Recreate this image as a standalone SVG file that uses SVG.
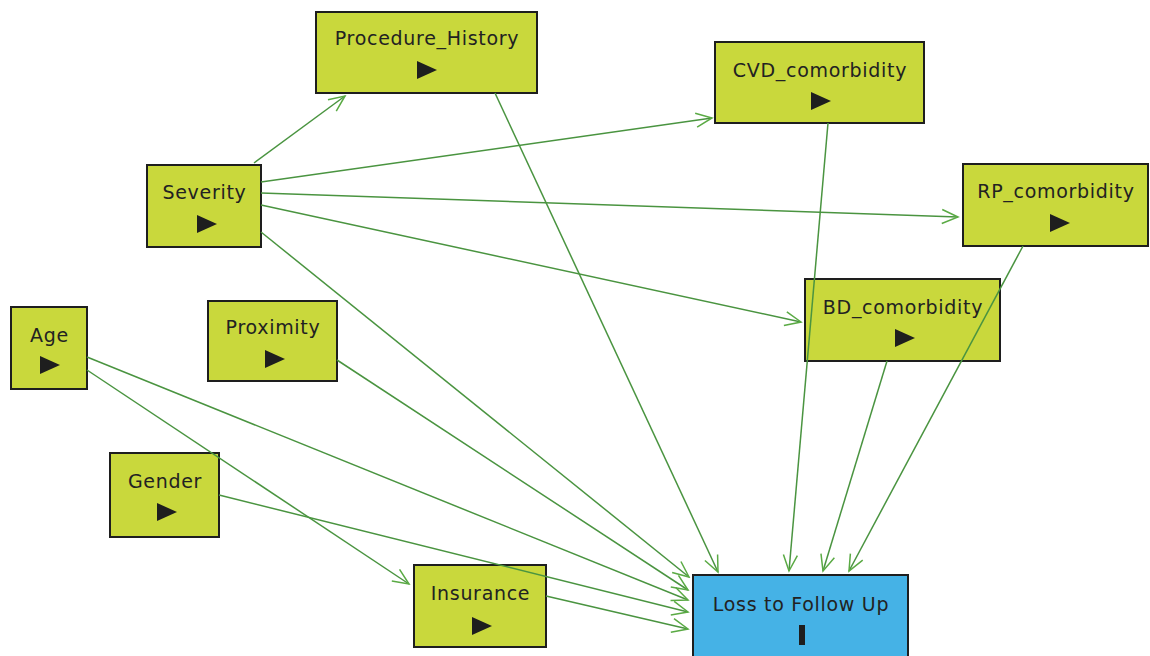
<svg xmlns="http://www.w3.org/2000/svg" width="1150" height="656" viewBox="0 0 1150 656">
<style>
.n{fill:#c9d83c;stroke:#1e1e1e;stroke-width:2}
.t{fill:#1e1e1e;stroke:none}
.lbl{font-family:"DejaVu Sans","Noto Sans",sans-serif;font-size:19px;letter-spacing:0.7px;fill:#222;text-anchor:middle}
.e{stroke:#4a9440;stroke-width:1.5;fill:none;marker-end:url(#ah)}
</style>
<defs>
<marker id="ah" viewBox="0 0 20 20" refX="18" refY="10" markerWidth="20" markerHeight="20" markerUnits="userSpaceOnUse" orient="auto">
<path d="M2,3 L18,10 L2,17" fill="none" stroke="#5aaa44" stroke-width="1.5"/>
</marker>
</defs>
<rect width="1150" height="656" fill="#ffffff"/>
<g id="procedure_history">
<rect class="n" x="316" y="12" width="221" height="81"/>
<text class="lbl" x="427" y="45">Procedure_History</text>
<polygon class="t" points="417,61 437,70 417,79"/>
</g>
<g id="severity">
<rect class="n" x="147" y="165" width="114" height="82"/>
<text class="lbl" x="204.5" y="199">Severity</text>
<polygon class="t" points="197,215 217,224 197,233"/>
</g>
<g id="cvd_comorbidity">
<rect class="n" x="715" y="42" width="209" height="81"/>
<text class="lbl" x="820" y="77">CVD_comorbidity</text>
<polygon class="t" points="811,92 831,101 811,110"/>
</g>
<g id="rp_comorbidity">
<rect class="n" x="963" y="164" width="185" height="82"/>
<text class="lbl" x="1056" y="198">RP_comorbidity</text>
<polygon class="t" points="1050,214 1070,223 1050,232"/>
</g>
<g id="bd_comorbidity">
<rect class="n" x="805" y="279" width="195" height="82"/>
<text class="lbl" x="903" y="314">BD_comorbidity</text>
<polygon class="t" points="895,329 915,338 895,347"/>
</g>
<g id="age">
<rect class="n" x="11" y="307" width="76" height="82"/>
<text class="lbl" x="49.5" y="342">Age</text>
<polygon class="t" points="40,356 60,365 40,374"/>
</g>
<g id="proximity">
<rect class="n" x="208" y="301" width="129" height="80"/>
<text class="lbl" x="273" y="334">Proximity</text>
<polygon class="t" points="265,350 285,359 265,368"/>
</g>
<g id="gender">
<rect class="n" x="110" y="453" width="109" height="84"/>
<text class="lbl" x="165" y="488">Gender</text>
<polygon class="t" points="157,503 177,512 157,521"/>
</g>
<g id="insurance">
<rect class="n" x="414" y="565" width="132" height="82"/>
<text class="lbl" x="480.5" y="600">Insurance</text>
<polygon class="t" points="472,617 492,626 472,635"/>
</g>
<g id="loss_to_follow_up">
<rect x="693" y="575" width="215" height="90" fill="#45b2e6" stroke="#1e1e1e" stroke-width="2"/>
<text class="lbl" x="801" y="611">Loss to Follow Up</text>
<rect class="t" x="799" y="625" width="6" height="20"/>
</g>
<g id="connectors">
<line class="e" x1="254" y1="163" x2="345" y2="96"/>
<line class="e" x1="261" y1="182" x2="712" y2="118"/>
<line class="e" x1="261" y1="193" x2="958" y2="217"/>
<line class="e" x1="261" y1="205" x2="801" y2="322"/>
<line class="e" x1="261" y1="232" x2="689" y2="577"/>
<line class="e" x1="495" y1="93" x2="718" y2="572"/>
<line class="e" x1="828" y1="123" x2="789" y2="571"/>
<line class="e" x1="887" y1="361" x2="823" y2="571"/>
<line class="e" x1="1023" y1="246" x2="849" y2="571"/>
<line class="e" x1="337" y1="360" x2="688" y2="590"/>
<line class="e" x1="87" y1="357" x2="688" y2="600"/>
<line class="e" x1="87" y1="370" x2="409" y2="584"/>
<line class="e" x1="219" y1="495" x2="688" y2="612"/>
<line class="e" x1="546" y1="596" x2="688" y2="629"/>
</g>
</svg>
